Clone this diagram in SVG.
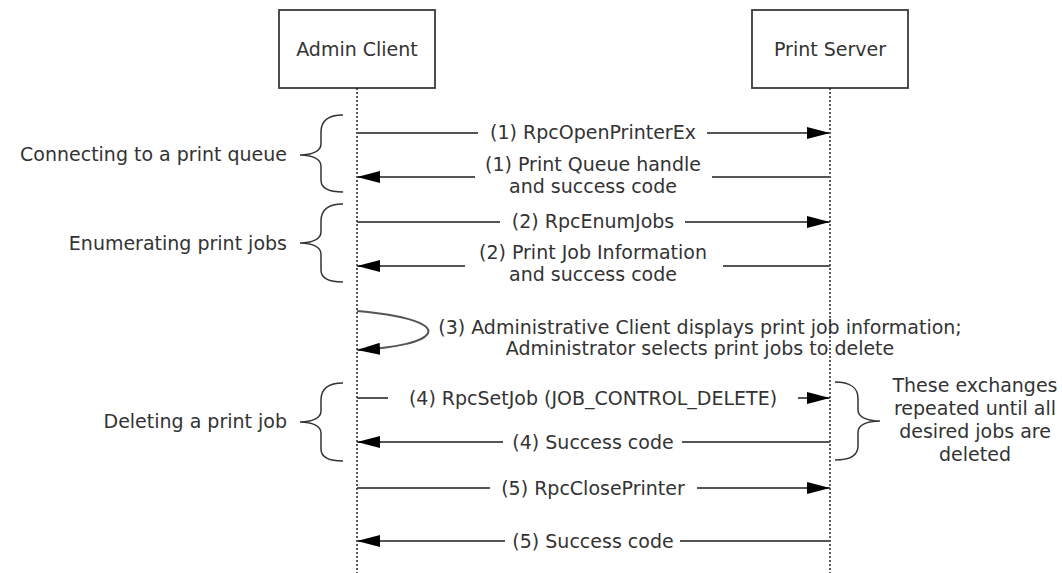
<svg xmlns="http://www.w3.org/2000/svg" width="1062" height="573" viewBox="0 0 1062 573">
<defs>
<style>
text{font-family:"DejaVu Sans","Liberation Sans",sans-serif;font-size:19px;fill:#333}
.c{text-anchor:middle}
.box{fill:#fff;stroke:#3a3a3a;stroke-width:1.8}
.life{stroke:#222;stroke-width:1.5;stroke-dasharray:2,2;fill:none}
.msg{stroke:#555;stroke-width:2;fill:none;marker-end:url(#ah)}
.brace{stroke:#333;stroke-width:1.5;fill:none}
</style>
<marker id="ah" markerUnits="userSpaceOnUse" markerWidth="23" markerHeight="12" viewBox="0 0 23 12" refX="23" refY="6" orient="auto">
<path d="M0,0 L23,6 L0,12 Z" fill="#000"/>
</marker>
</defs>
<rect width="1062" height="573" fill="#fff"/>
<g id="admin-client">
<rect class="box" x="279" y="10" width="156" height="78"/>
<text class="c" x="357" y="56">Admin Client</text>
<line class="life" x1="357" y1="88" x2="357" y2="573"/>
</g>
<g id="print-server">
<rect class="box" x="752" y="10" width="156" height="78"/>
<text class="c" x="830" y="56">Print Server</text>
<line class="life" x1="830" y1="88" x2="830" y2="573"/>
</g>
<g id="connectors">
<path class="msg" d="M357,133 H478 M707,133 H830"/>
<path class="msg" d="M830,177 H712 M475,177 H357"/>
<path class="msg" d="M357,222 H500 M685,222 H830"/>
<path class="msg" d="M830,266 H723 M465,266 H357"/>
<path class="msg" d="M357,311 C405,315 432,324 428,333 C424,342 395,348 357,350"/>
<path class="msg" d="M357,398 H388 M798,398 H830"/>
<path class="msg" d="M830,442 H682 M503,442 H357"/>
<path class="msg" d="M357,488 H490 M697,488 H830"/>
<path class="msg" d="M830,541 H680 M505,541 H357"/>
</g>
<g id="labels">
<text class="c" x="593" y="139">(1) RpcOpenPrinterEx</text>
<text class="c" x="593" y="171">(1) Print Queue handle</text>
<text class="c" x="593" y="193">and success code</text>
<text class="c" x="593" y="228">(2) RpcEnumJobs</text>
<text class="c" x="593" y="259">(2) Print Job Information</text>
<text class="c" x="593" y="281">and success code</text>
<text class="c" x="700" y="334">(3) Administrative Client displays print job information;</text>
<text class="c" x="700" y="355">Administrator selects print jobs to delete</text>
<text class="c" x="593" y="405">(4) RpcSetJob (JOB_CONTROL_DELETE)</text>
<text class="c" x="593" y="449">(4) Success code</text>
<text class="c" x="593" y="495">(5) RpcClosePrinter</text>
<text class="c" x="593" y="548">(5) Success code</text>
</g>
<g id="brace-connecting">
<path class="brace" d="M343,115 C328,115 321,121 321,132 L321,144 C321,151 312,155 300,155 C312,155 321,159 321,166 L321,180 C321,188 328,192 343,192"/>
<text x="287" y="161" text-anchor="end">Connecting to a print queue</text>
</g>
<g id="brace-enumerating">
<path class="brace" d="M343,204 C328,204 321,210 321,221 L321,232 C321,239 312,243 300,243 C312,243 321,247 321,254 L321,270 C321,278 328,282 343,282"/>
<text x="287" y="250" text-anchor="end">Enumerating print jobs</text>
</g>
<g id="brace-deleting">
<path class="brace" d="M343,383 C328,383 321,389 321,400 L321,411 C321,418 312,422 300,422 C312,422 321,426 321,433 L321,449 C321,457 328,461 343,461"/>
<text x="287" y="428" text-anchor="end">Deleting a print job</text>
</g>
<g id="brace-repeat">
<path class="brace" d="M835,382 C850,382 858,388 858,398 L858,410 C858,417 867,421 880,421 C867,421 858,425 858,432 L858,446 C858,455 850,460 835,460"/>
<text class="c" x="975" y="392">These exchanges</text>
<text class="c" x="975" y="415">repeated until all</text>
<text class="c" x="975" y="438">desired jobs are</text>
<text class="c" x="975" y="461">deleted</text>
</g>
</svg>
